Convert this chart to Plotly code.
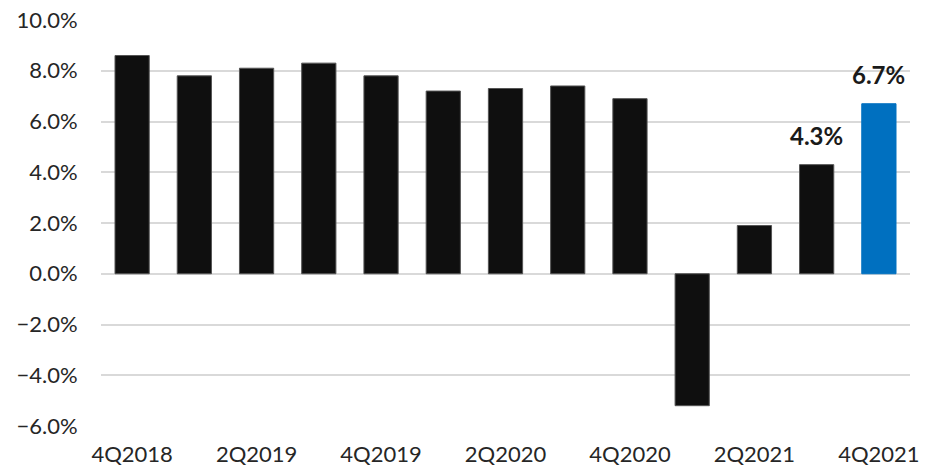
import plotly.graph_objects as go

quarters = ["4Q2018", "1Q2019", "2Q2019", "3Q2019", "4Q2019", "1Q2020", "2Q2020",
            "3Q2020", "4Q2020", "1Q2021", "2Q2021", "3Q2021", "4Q2021"]
growth = [8.6, 7.8, 8.1, 8.3, 7.8, 7.2, 7.3, 7.4, 6.9, -5.2, 1.9, 4.3, 6.7]
labelled = ["3Q2021", "4Q2021"]
tick_labels = quarters[::2]

bar_colors = ["#0070C0" if q == "4Q2021" else "#0F0F0F" for q in quarters]
line_colors = ["#0070C0" if q == "4Q2021" else "#555555" for q in quarters]

font_family = "Lato, 'Open Sans', sans-serif"

fig = go.Figure(go.Bar(
    x=quarters,
    y=growth,
    marker=dict(color=bar_colors, line=dict(color=line_colors, width=1)),
    width=0.55,
    hoverinfo="skip",
))

for q, v in zip(quarters, growth):
    if q in labelled:
        fig.add_annotation(
            x=q, y=v, text=f"<b>{v:.1f}%</b>", showarrow=False,
            yanchor="bottom", yshift=13,
            font=dict(family=font_family, size=24, color="#1a1a1a"),
        )

fig.update_layout(
    width=936, height=468,
    margin=dict(l=101, r=26, t=20, b=42),
    paper_bgcolor="white", plot_bgcolor="white",
    showlegend=False,
    font=dict(family=font_family, size=22, color="#262626"),
    xaxis=dict(
        tickmode="array", tickvals=tick_labels, ticktext=tick_labels,
        showgrid=False, showline=False, zeroline=False, automargin=False,
        ticks="outside", ticklen=9, tickcolor="rgba(0,0,0,0)",
        tickfont=dict(size=22),
    ),
    yaxis=dict(
        range=[-6, 10], dtick=2, tick0=0,
        ticksuffix="%", tickformat=".1f",
        showgrid=True, gridcolor="#D9D9D9", gridwidth=2,
        zeroline=True, zerolinecolor="#D9D9D9", zerolinewidth=2,
        showline=False, automargin=False,
        ticks="outside", ticklen=18, tickcolor="rgba(0,0,0,0)",
        tickfont=dict(size=22),
    ),
)

fig.write_html("out.html")
